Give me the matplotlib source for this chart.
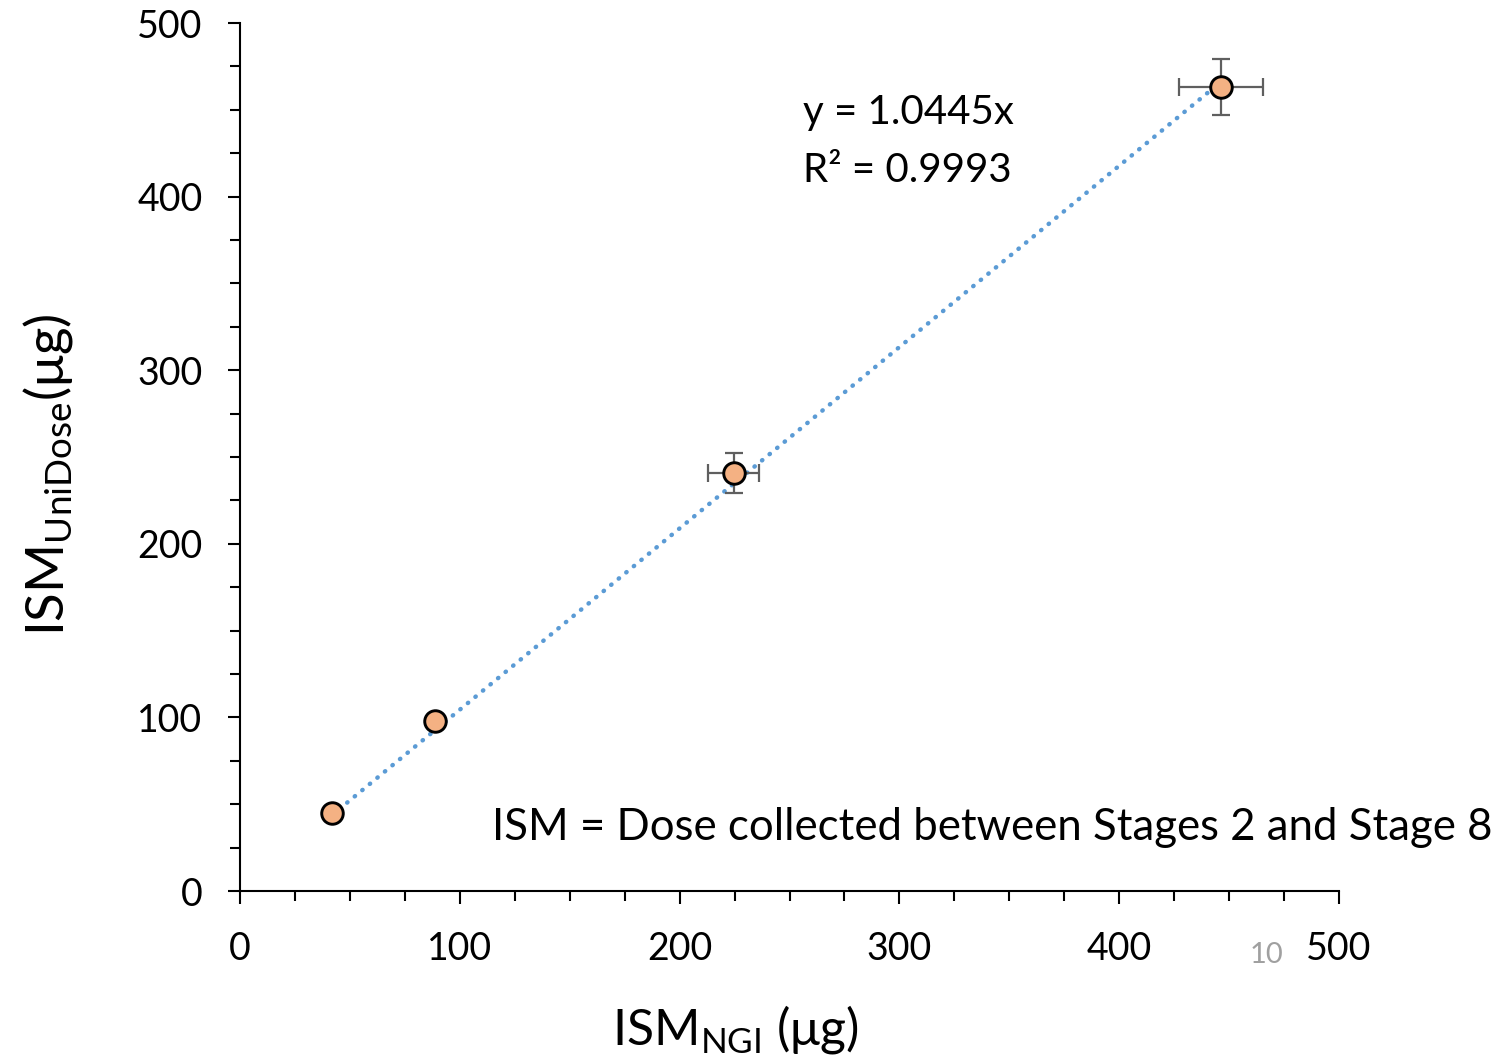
import matplotlib.pyplot as plt
from matplotlib.ticker import MultipleLocator

# ISM values (µg): NGI reference vs UniDose
ism_ngi = [41.9, 88.7, 224.7, 446.3]
ism_unidose = [44.9, 97.9, 240.8, 463.0]
err_ngi = [0, 0, 11.6, 19.0]
err_unidose = [0, 0, 11.8, 16.0]

pendiente = 1.0445
r2 = 0.9993

plt.rcParams['font.family'] = ['Lato', 'DejaVu Sans']
plt.rcParams['mathtext.fontset'] = 'custom'
plt.rcParams['mathtext.rm'] = 'Lato'

fig = plt.figure(figsize=(14.98, 10.61), dpi=100)
ax = fig.add_axes([0.1602, 0.1602, 0.7337, 0.8181])

# linea de tendencia por el origen
x_lin = [min(ism_ngi), max(ism_ngi)]
y_lin = [pendiente * v for v in x_lin]
ax.plot(x_lin, y_lin, color='#5B9BD5', lw=3.2, linestyle=(0, (0.1, 2.1)),
        dash_capstyle='round', zorder=2)

ax.errorbar(ism_ngi, ism_unidose, xerr=err_ngi, yerr=err_unidose, fmt='none',
            ecolor='#5f5f5f', elinewidth=1.6, capsize=6.5, capthick=1.6, zorder=3)
ax.plot(ism_ngi, ism_unidose, 'o', ms=15.5, mfc='#F4B183', mec='black', mew=2.1,
        zorder=4)

ax.set_xlim(0, 500)
ax.set_ylim(0, 500)
ax.xaxis.set_major_locator(MultipleLocator(100))
ax.xaxis.set_minor_locator(MultipleLocator(25))
ax.yaxis.set_major_locator(MultipleLocator(100))
ax.yaxis.set_minor_locator(MultipleLocator(25))

for s in ['top', 'right']:
    ax.spines[s].set_visible(False)
for s in ['left', 'bottom']:
    ax.spines[s].set_linewidth(1.5)
ax.tick_params(which='major', length=9, width=1.5, labelsize=27)
ax.tick_params(which='minor', length=7, width=1.5)
ax.tick_params(axis='x', which='major', pad=20)
ax.tick_params(axis='y', which='major', pad=18)

fig.text(735 / 1498, 1 - 1030 / 1061, r'ISM$_{\mathregular{NGI}}$ (μg)',
         fontsize=36, ha='center', va='center')
fig.text(48 / 1498, 1 - 475 / 1061, r'ISM$_{\mathregular{UniDose}}$(μg)',
         fontsize=38, ha='center', va='center', rotation=90)

ax.text(256, 448.7, 'y = 1.0445x', fontsize=29, ha='left', va='center')
ax.text(256, 415, 'R² = 0.9993', fontsize=29, ha='left', va='center')

fig.text(492 / 1498, 1 - 828 / 1061,
         'ISM = Dose collected between Stages 2 and Stage 8',
         fontsize=31.5, ha='left', va='center')
fig.text(1267 / 1498, 1 - 955 / 1061, '10', fontsize=21, color='#a0a0a0',
         ha='center', va='center')

fig.savefig('out.png', dpi=100)
